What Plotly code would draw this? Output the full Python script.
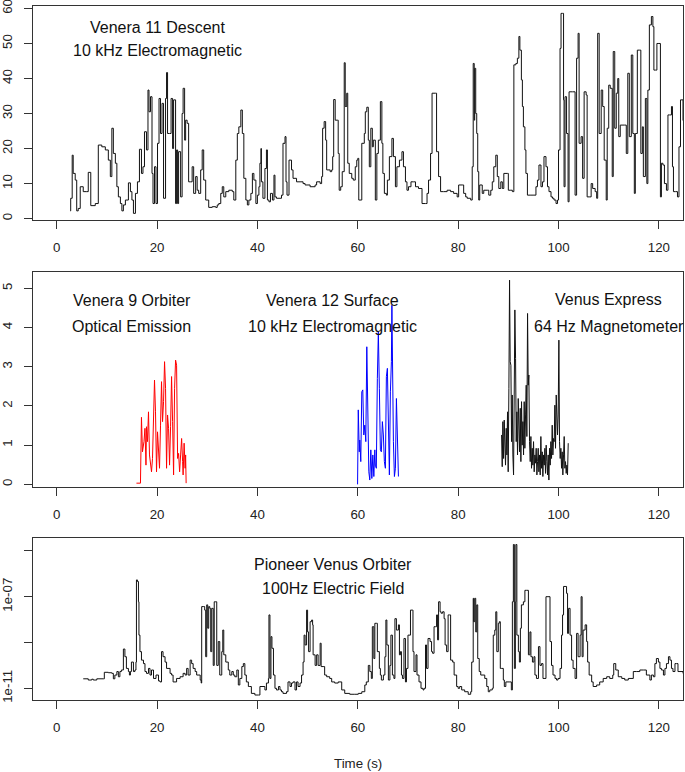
import plotly.graph_objects as go

# ---------------- data ----------------
# Venera 11 Descent, 10 kHz electromagnetic
v11_t = [2.7, 2.8, 3.1, 3.3, 3.7, 4.0, 4.3, 4.7, 5.3, 6.0, 6.3, 6.8, 7.7, 8.3, 9.0, 9.7, 10.3, 10.7, 11.0, 11.3,
         11.7, 12.0, 12.3, 12.7, 13.0, 13.3, 13.7, 14.3, 14.7, 15.0, 15.3, 15.7, 16.1, 16.5, 16.9, 17.2, 17.5, 17.9, 18.2, 18.4,
         18.7, 19.0, 19.2, 19.5, 19.8, 20.1, 20.4, 20.7, 21.0, 21.3, 21.7, 21.9, 22.1, 22.5, 22.8, 23.1, 23.3, 23.7, 23.9, 24.1,
         24.3, 24.7, 25.0, 25.2, 25.5, 25.7, 26.0, 26.3, 26.7, 27.0, 27.3, 27.7, 28.0, 28.3, 28.7, 29.0, 29.3, 29.7, 30.3, 31.0,
         31.7, 32.0, 32.3, 32.7, 33.0, 33.3, 33.7, 34.3, 35.0, 35.3, 35.7, 36.0, 36.3, 36.7, 37.0, 37.3, 37.7, 38.0, 38.3, 38.7,
         39.0, 39.3, 39.7, 40.0, 40.3,
         40.5, 40.7, 40.8, 41.1, 41.5, 41.8, 42.0, 42.3, 42.6, 43.0, 43.3, 43.5, 43.8, 44.5, 44.8, 45.1, 45.5, 45.7, 45.9, 46.3,
         46.8, 47.1, 47.8, 48.5, 49.1, 49.5, 50.5, 51.5, 51.8, 52.5, 52.8, 53.0, 53.3, 53.6, 53.8, 54.5, 54.8, 55.0, 55.2, 55.5,
         56.0, 56.1, 56.3, 56.6, 56.9, 57.3, 57.5, 57.8, 58.0, 58.3, 58.8, 59.1, 59.5, 59.8, 60.0, 60.2, 60.7, 60.8, 61.3, 61.5,
         61.8, 62.1, 62.3, 62.6, 62.9, 63.1, 63.5, 63.8, 64.1, 64.5, 64.8, 65.0, 65.3, 65.7, 65.9, 66.3, 66.8, 67.1, 67.5, 67.8,
         68.3, 68.8, 69.1, 69.5, 69.8, 70.1, 70.6, 71.1, 71.5, 72.1, 72.8, 73.5, 73.8, 74.1, 74.5, 74.8, 75.5, 75.7, 76.1, 76.5,
         77.1, 77.8, 78.5, 79.1, 79.8, 80.1, 80.8, 81.1, 81.5, 81.8, 82.5,
         82.8, 83.0, 83.2, 83.3, 83.5, 83.7, 83.9, 84.1, 84.3, 84.8, 85.1, 85.8, 86.1, 86.5, 86.8, 87.1, 87.5, 87.8, 88.1, 88.5,
         88.8, 89.1, 89.8, 90.0, 90.5, 90.8, 91.1, 91.5, 91.8, 92.1, 92.3, 92.6, 92.8, 93.0, 93.3, 93.5, 93.8, 94.5, 95.1, 95.5,
         95.8, 96.1, 96.5, 96.8, 97.1, 97.5, 97.8, 98.1, 98.5, 98.8, 99.1, 99.5, 99.8, 100.0, 100.3, 100.5, 100.8, 101.0, 101.1, 101.3,
         101.6, 101.9, 102.1, 102.8, 103.3, 103.6, 103.9, 104.1, 104.5, 104.8, 105.1, 105.5, 105.7, 106.1, 106.5, 106.8, 107.3, 107.6, 107.8, 108.1,
         108.5, 108.8, 109.1, 109.5, 109.7, 110.0, 110.3, 110.7, 110.9, 111.2, 111.5, 111.8, 112.0, 112.3, 113.1, 113.5, 113.8, 114.1, 114.5, 114.8,
         115.1, 115.3, 115.7, 116.1, 116.4, 116.7, 116.9, 117.3, 117.6, 117.8, 118.1, 118.5, 118.8, 119.0, 119.3, 119.6, 120.0, 120.3, 120.5, 120.8,
         121.1, 121.5, 121.8, 122.1, 122.5, 122.7, 122.9, 123.3, 123.7, 124.0, 124.3, 124.6, 124.8]
v11_y = [2.2, 5.8, 18.1, 12.9, 11.0, 2.2, 2.9, 9.1, 7.7, 7.7, 13.2, 3.7, 4.3, 21.0, 20.5, 19.6, 16.7, 12.0, 25.8, 18.6,
         15.8, 9.1, 6.2, 4.3, 2.2, 3.9, 5.3, 10.2, 7.7, 5.3, 1.5, 7.2, 10.5, 19.8, 12.9, 14.8, 24.8, 19.6, 36.7, 30.5,
         34.8, 12.9, 4.3, 14.8, 4.3, 21.5, 34.3, 24.3, 32.9, 5.8, 34.3, 41.7, 24.3, 24.3, 34.3, 20.0, 33.9, 4.3, 19.6, 4.3,
         19.1, 6.2, 30.0, 37.2, 22.4, 28.1, 27.2, 10.5, 10.5, 14.8, 7.2, 12.0, 8.1, 7.2, 13.9, 19.6, 11.0, 5.3, 3.2, 3.4,
         3.2, 3.9, 4.3, 7.2, 9.1, 6.2, 7.7, 8.1, 7.7, 5.3, 16.7, 24.3, 26.2, 31.0, 24.3, 11.5, 5.3, 3.9, 5.3, 7.2,
         12.9, 11.0, 4.3, 6.7, 9.1,
         15.8, 20.0, 10.5, 5.8, 14.3, 19.6, 5.3, 4.8, 7.2, 5.3, 12.4, 6.2, 5.8, 5.8, 6.7, 21.5, 23.4, 10.5, 6.7, 16.7,
         13.9, 11.5, 10.5, 10.5, 10.0, 9.6, 9.1, 9.6, 10.5, 10.0, 12.0, 25.8, 27.7, 22.4, 13.9, 13.4, 13.9, 17.7, 34.0, 28.1,
         28.1, 18.6, 8.1, 9.1, 13.4, 44.5, 32.0, 35.8, 15.8, 12.9, 11.5, 11.0, 14.8, 16.7, 17.2, 5.3, 5.3, 21.5, 24.3, 30.5,
         31.8, 22.4, 14.8, 25.8, 20.5, 22.4, 5.3, 18.6, 22.4, 33.4, 21.5, 12.9, 7.2, 6.7, 11.0, 17.7, 22.9, 17.7, 9.1, 14.8,
         16.7, 19.1, 14.8, 10.5, 8.1, 9.1, 10.5, 10.5, 9.1, 8.6, 4.3, 4.3, 7.2, 11.0, 18.6, 35.8, 35.8, 19.1, 12.0, 7.7,
         7.7, 8.1, 7.7, 7.2, 6.2, 9.6, 9.6, 7.2, 6.2, 5.8, 5.3,
         14.8, 44.3, 28.1, 42.9, 30.0, 24.3, 13.4, 5.3, 9.6, 7.2, 8.1, 8.1, 6.7, 8.1, 10.5, 14.8, 18.1, 12.0, 8.6, 10.5,
         8.6, 12.9, 12.9, 8.1, 8.1, 7.7, 43.9, 44.3, 45.8, 52.0, 48.1, 39.6, 32.0, 26.2, 19.6, 12.9, 6.7, 6.7, 6.7, 9.1,
         11.0, 15.3, 9.1, 10.5, 17.7, 14.8, 9.1, 7.7, 6.2, 5.8, 5.3, 4.3, 5.3, 19.6, 48.6, 58.6, 58.6, 33.9, 9.1, 34.8,
         24.3, 4.8, 36.2, 36.2, 6.7, 45.8, 52.9, 21.5, 23.4, 11.5, 36.2, 35.3, 6.2, 6.2, 10.0, 8.6, 7.7, 5.8, 52.9, 24.3,
         36.7, 32.0, 16.7, 5.3, 25.8, 38.1, 37.2, 12.0, 47.7, 25.8, 35.8, 40.0, 23.4, 26.7, 26.7, 18.6, 41.5, 23.4, 46.7, 24.3,
         7.2, 24.3, 48.1, 48.1, 18.6, 26.2, 12.0, 34.3, 10.0, 36.7, 55.3, 57.7, 54.8, 42.4, 42.4, 50.0, 50.0, 6.2, 15.8, 15.3,
         10.0, 8.1, 29.6, 29.6, 32.0, 14.8, 7.7, 7.7, 6.2, 20.5, 33.9, 33.9, 28.0]

# Venera 9 Orbiter, optical emission
v9_t = [15.9, 16.7, 16.9, 17.1, 17.4, 17.6, 17.8, 17.9, 18.1, 18.3, 18.5, 18.7, 18.9, 19.1, 19.3, 19.5, 19.7, 19.9, 20.1, 20.3,
        20.5, 20.7, 20.9, 21.1, 21.3, 21.5, 21.7, 21.9, 22.1, 22.3, 22.5, 22.7, 22.9, 23.1, 23.3, 23.5, 23.7, 23.9, 24.1, 24.3,
        24.5, 24.7, 24.9, 25.1, 25.2, 25.4, 25.6, 25.7, 25.8]
v9_y = [0.03, 0.03, 1.71, 0.83, 1.09, 1.43, 0.49, 1.47, 1.09, 1.85, 0.75, 0.41, 0.32, 0.66, 1.51, 2.66, 1.85, 0.32, 1.34, 0.71,
        0.41, 1.51, 2.62, 1.60, 2.11, 3.13, 2.45, 0.41, 1.77, 1.43, 0.49, 1.47, 2.75, 1.60, 0.24, 2.45, 3.17, 3.04, 0.66, 0.79,
        0.32, 0.75, 1.17, 0.58, 0.24, 1.05, 0.41, 0.75, 0.03]

# Venera 12 Surface, 10 kHz electromagnetic
v12_t = [59.96, 60.1, 60.3, 60.4, 60.6, 60.8, 61.0, 61.2, 61.4, 61.6, 61.8, 62.0, 62.2, 62.4, 62.6, 62.8, 63.0, 63.2, 63.4, 63.5,
         63.7, 63.9, 64.1, 64.3, 64.5, 64.7, 64.9, 65.1, 65.3, 65.5, 65.7, 65.9, 66.1, 66.3, 66.5, 66.7, 66.8, 66.9, 67.1, 67.3,
         67.5, 67.7, 67.9, 68.1]
v12_y = [0.0, 1.90, 0.83, 1.13, 0.58, 2.36, 2.41, 1.26, 1.51, 1.09, 3.51, 1.68, 0.32, 0.11, 0.88, 0.15, 0.75, 0.20, 0.88, 0.49,
         0.41, 2.70, 3.89, 2.45, 0.88, 0.83, 1.60, 1.26, 0.58, 0.41, 2.75, 2.96, 0.92, 0.24, 2.36, 3.13, 4.57, 2.62, 1.09, 0.20,
         0.41, 2.19, 0.75, 0.20]

# Venus Express, 64 Hz magnetometer
vex_t = [88.65, 88.78, 88.91, 89.05, 89.18, 89.31, 89.44, 89.58, 89.71, 89.84, 89.97, 90.11, 90.24, 90.37, 90.51, 90.64, 90.77, 90.90, 91.04, 91.17,
         91.30, 91.44, 91.57, 91.70, 91.83, 91.97, 92.10, 92.23, 92.37, 92.50, 92.63, 92.76, 92.90, 93.03, 93.16, 93.29, 93.43, 93.56, 93.69, 93.83,
         93.96, 94.09, 94.22, 94.36, 94.49, 94.62, 94.76, 94.89, 95.02, 95.15, 95.29, 95.42, 95.55, 95.69, 95.82, 95.95, 96.08, 96.22, 96.35, 96.48,
         96.61, 96.75, 96.88, 97.01, 97.15, 97.28, 97.41, 97.54, 97.68, 97.81, 97.94, 98.08, 98.21, 98.34, 98.47, 98.61, 98.74, 98.87, 99.00, 99.14,
         99.27, 99.40, 99.54, 99.67, 99.80, 99.93, 100.07, 100.20, 100.33, 100.47, 100.60, 100.73, 100.86, 101.00, 101.13, 101.26, 101.39, 101.53, 101.66, 101.79,
         101.93]
vex_y = [1.26, 0.45, 1.60, 0.66, 1.64, 1.09, 0.49, 1.43, 0.75, 1.85, 0.32, 2.45, 5.21, 3.13, 3.04, 1.09, 2.28, 0.75, 0.24, 2.28,
         4.45, 3.21, 1.09, 1.85, 0.75, 2.19, 1.43, 0.83, 1.94, 0.58, 2.11, 1.00, 1.60, 0.75, 2.11, 0.92, 1.77, 2.53, 1.22, 4.36,
         2.53, 2.79, 1.09, 0.58, 1.22, 0.41, 0.92, 0.49, 1.09, 0.32, 0.75, 0.54, 0.92, 0.24, 0.58, 0.92, 0.32, 0.75, 0.24, 1.22,
         0.41, 0.83, 0.20, 0.75, 0.49, 0.92, 0.28, 1.00, 0.58, 0.24, 0.75, 0.11, 0.92, 0.49, 1.09, 0.66, 1.51, 0.75, 1.17, 1.09,
         2.02, 0.92, 2.28, 1.60, 1.26, 1.77, 3.68, 1.09, 0.66, 0.92, 0.41, 0.83, 0.24, 0.75, 1.22, 0.41, 0.58, 0.28, 0.49, 0.24,
         1.05]

# Pioneer Venus Orbiter, 100 Hz electric field
pvo_t = [5.3, 6.3, 7.0, 7.3, 8.0, 9.3, 9.5, 10.3, 11.0, 11.3, 11.6, 12.0, 12.3, 12.6, 12.9, 13.3, 13.6, 13.9, 14.3, 14.5,
         14.7, 14.9, 15.3, 15.6, 15.8, 15.9, 16.1, 16.3, 16.4, 16.6, 16.9, 17.3, 17.6, 17.9, 18.3, 18.6, 18.9, 19.3, 19.8, 20.3,
         20.6, 20.9, 21.2, 21.6, 21.9, 22.6, 22.9, 23.2, 23.9, 24.6, 25.2, 25.6, 25.9, 26.2, 26.6, 26.9, 27.2, 27.6, 27.9, 28.6,
         28.8, 28.9, 29.2, 29.5, 29.7, 29.9, 30.1, 30.3, 30.5, 30.7, 30.9, 31.2, 31.4, 31.7, 31.9, 32.2, 32.5, 32.9, 33.1, 33.3,
         33.7, 34.2, 34.5, 34.9, 35.2, 35.5, 35.9, 36.2, 36.5, 36.9, 37.2, 37.5, 37.8, 38.2, 38.5, 38.8, 39.5, 40.2,
         40.5, 41.5, 41.8, 42.2, 42.3, 42.5, 42.7, 42.9, 43.2, 43.5, 43.8, 44.2, 44.5, 44.8, 45.1, 45.8, 46.1, 46.5, 46.8, 47.1,
         47.5, 47.8, 48.1, 48.5, 48.8, 49.1, 49.3, 49.5, 49.8, 50.0, 50.2, 50.5, 50.8, 51.0, 51.1, 51.5, 51.8, 52.1, 52.5, 52.7,
         53.1, 53.4, 53.8, 54.4, 54.8, 55.4, 56.1, 56.8, 57.4, 58.4, 59.4, 60.1, 60.8, 61.4, 61.7, 62.1, 62.4, 62.7, 62.9, 63.2,
         63.4, 63.7, 63.9, 64.3, 64.5, 64.7, 65.1, 65.4, 65.6, 65.8, 66.1, 66.4, 66.6, 66.9, 67.2, 67.4, 67.7, 68.1, 68.3, 68.5,
         68.7, 68.9, 69.2, 69.5, 69.7, 70.0, 70.5, 70.9, 71.0, 71.2, 71.6, 71.8, 72.2, 72.6, 73.0, 73.2, 73.5, 73.7, 74.0, 74.4,
         74.7, 74.9, 75.2, 75.5, 75.7, 75.9, 76.1, 76.4, 76.6, 76.9, 77.2, 77.4, 77.7, 78.0, 78.3, 78.5, 78.9, 79.2, 79.7, 80.0,
         80.3, 80.7, 81.3, 82.0, 82.5, 82.7, 83.0,
         83.1, 83.3, 83.5, 83.7, 83.9, 84.2, 84.5, 85.3, 85.7, 86.0, 86.3, 86.8, 87.0, 87.3, 87.5, 87.7, 88.0, 88.2, 88.4, 88.6,
         89.0, 89.2, 89.5, 90.3, 90.6, 90.8, 91.0, 91.2, 91.4, 91.5, 91.7, 92.0, 92.2, 92.4, 92.6, 93.0, 93.3, 93.6, 94.0, 94.3,
         94.5, 94.8, 95.1, 95.3, 95.6, 96.0, 96.3, 96.6, 96.9, 97.3, 97.5, 97.9, 98.3, 98.6, 98.9, 99.3, 99.6, 99.9, 100.3, 100.6,
         100.8, 101.0, 101.3, 101.6, 101.8, 102.0, 102.3, 102.6, 102.9, 103.3, 103.6, 103.9, 104.3, 104.5, 104.7, 104.9, 105.3, 105.6, 105.8, 106.1,
         106.6, 106.9, 107.6, 108.2, 108.9, 109.6, 110.2, 110.8, 111.0, 111.4, 111.9, 112.6, 113.2, 113.9, 114.9, 115.5, 116.2, 116.9, 117.5, 118.2,
         118.5, 118.9, 119.2, 119.5, 119.9, 120.2, 120.5, 120.9, 121.2, 121.5, 121.9, 122.2, 122.5, 122.8, 123.2, 123.5, 123.8, 124.2, 124.8]
pvo_y = [2.6e-11, 2.3e-11, 2.5e-11, 2.3e-11, 2.6e-11, 2.6e-11, 5.0e-11, 4.8e-11, 4.5e-11, 2.6e-11, 3.8e-11, 5.4e-11, 3.2e-11, 5.4e-11, 6.3e-11, 5.2e-10, 2.4e-10, 7.4e-11, 5.4e-11, 3.8e-11,
         5.4e-11, 1.4e-10, 5.4e-11, 6.3e-11, 1.4e-10, 5.4e-07, 4.6e-07, 6.0e-08, 2.1e-09, 4.0e-10, 1.7e-10, 1.2e-10, 5.4e-11, 4.5e-11, 7.4e-11, 3.8e-11, 6.3e-11, 2.7e-11, 3.8e-11, 2.1e-11,
         1.9e-11, 4.0e-10, 2.4e-10, 1.4e-10, 7.4e-11, 4.5e-11, 3.8e-11, 1.9e-11, 2.7e-11, 3.2e-11, 4.5e-11, 3.8e-11, 7.4e-11, 3.8e-11, 1.7e-10, 1.2e-10, 7.4e-11, 5.4e-11, 3.8e-11, 2.3e-11,
         1.7e-11, 3.7e-08, 3.7e-08, 2.6e-08, 2.4e-10, 4.4e-08, 4.2e-09, 3.7e-08, 3.1e-08, 4.0e-10, 3.1e-08, 1.0e-10, 6.0e-08, 6.0e-08, 1.0e-10, 1.1e-09, 3.8e-11, 4.0e-10, 3.5e-09, 2.9e-10,
         1.4e-10, 6.3e-11, 3.8e-11, 5.4e-11, 3.8e-11, 3.2e-11, 6.3e-11, 1.4e-11, 2.7e-11, 8.9e-11, 1.2e-10, 3.8e-11, 1.9e-11, 1.2e-11, 1.2e-11, 6.0e-12, 5.1e-12, 5.1e-12,
         1.2e-11, 8.5e-12, 1.7e-11, 2.7e-11, 1.6e-08, 2.7e-11, 1.8e-09, 5.6e-10, 3.8e-11, 1.0e-11, 8.5e-12, 1.2e-11, 8.5e-12, 7.1e-12, 6.0e-12, 7.1e-12, 1.9e-11, 1.2e-11, 1.7e-11, 1.9e-11,
         8.5e-12, 1.9e-11, 1.2e-11, 1.7e-11, 3.8e-11, 1.4e-10, 2.1e-09, 7.8e-10, 2.6e-08, 2.9e-09, 4.0e-10, 8.1e-09, 9.6e-09, 5.9e-09, 2.9e-10, 1.0e-10, 2.9e-10, 1.0e-10, 9.3e-10, 8.9e-11,
         8.9e-11, 3.8e-11, 3.2e-11, 2.7e-11, 1.9e-11, 1.7e-11, 1.9e-11, 8.5e-12, 6.0e-12, 5.5e-12, 5.5e-12, 6.0e-12, 7.1e-12, 1.4e-11, 1.9e-11, 1.0e-10, 5.4e-11, 2.7e-11, 4.9e-09, 2.0e-10,
         6.9e-09, 6.9e-09, 4.0e-10, 7.4e-11, 3.8e-11, 2.3e-11, 3.8e-11, 2.4e-10, 9.6e-09, 7.8e-10, 2.3e-11, 1.0e-10, 2.1e-09, 3.8e-11, 2.7e-11, 1.1e-08, 3.5e-09, 5.9e-09, 2.9e-10, 4.0e-10,
         3.8e-11, 2.7e-11, 1.5e-09, 1.9e-11, 7.4e-11, 2.1e-09, 2.6e-08, 2.6e-08, 4.0e-10, 5.4e-11, 2.9e-10, 3.8e-11, 1.9e-11, 1.0e-11, 8.5e-12, 1.0e-11, 7.8e-10, 7.4e-11, 1.5e-09, 1.1e-09,
         4.0e-10, 3.4e-10, 4.9e-09, 4.9e-09, 1.6e-08, 1.3e-09, 6.0e-08, 2.2e-08, 1.9e-08, 2.2e-08, 1.1e-08, 7.8e-10, 4.0e-10, 1.6e-08, 1.6e-08, 1.7e-10, 1.4e-10, 3.8e-11, 1.2e-11, 1.0e-11,
         1.2e-11, 8.5e-12, 7.1e-12, 5.5e-12, 7.1e-12, 1.4e-10, 8.5e-08,
         8.1e-09, 8.5e-08, 2.9e-09, 4.4e-08, 2.0e-10, 5.4e-11, 3.8e-11, 2.7e-11, 1.2e-11, 7.1e-12, 8.5e-12, 1.0e-11, 2.1e-09, 3.5e-09, 2.2e-08, 4.0e-10, 6.9e-09, 8.1e-09, 7.4e-11, 7.4e-11,
         2.3e-11, 1.2e-11, 1.9e-11, 1.9e-11, 8.5e-12, 6.0e-08, 1.9e-05, 7.4e-11, 6.0e-08, 1.9e-05, 2.1e-09, 4.0e-10, 1.4e-10, 4.2e-09, 4.4e-08, 6.0e-08, 1.9e-07, 1.9e-07, 2.9e-10, 2.9e-09,
         2.4e-10, 1.4e-10, 2.4e-10, 3.8e-11, 2.7e-11, 6.6e-10, 1.0e-10, 1.2e-10, 2.7e-11, 2.7e-11, 1.0e-07, 1.0e-07, 1.1e-09, 1.0e-10, 3.8e-11, 2.7e-11, 2.3e-11, 2.7e-11, 7.4e-11, 2.1e-09,
         1.6e-08, 2.8e-07, 2.8e-07, 1.4e-07, 2.5e-09, 3.1e-08, 2.1e-09, 1.7e-10, 7.4e-11, 2.7e-11, 2.5e-09, 2.4e-10, 2.1e-09, 1.0e-07, 2.4e-10, 3.5e-09, 5.9e-09, 1.1e-09, 1.4e-10, 3.8e-11,
         1.9e-11, 1.2e-11, 1.4e-11, 1.9e-11, 2.7e-11, 3.2e-11, 2.7e-11, 3.8e-11, 1.2e-10, 6.3e-11, 3.2e-11, 2.7e-11, 2.3e-11, 2.7e-11, 5.4e-11, 5.4e-11, 6.3e-11, 6.3e-11, 3.8e-11, 2.3e-11,
         3.8e-11, 3.2e-11, 1.2e-10, 2.0e-10, 1.4e-10, 7.4e-11, 6.3e-11, 3.8e-11, 7.4e-11, 1.2e-10, 2.4e-10, 1.7e-10, 7.4e-11, 5.4e-11, 1.2e-10, 1.2e-10, 5.4e-11, 5.4e-11, 4.5e-11]

x_ticks = [0, 20, 40, 60, 80, 100, 120]
y1_ticks = [0, 10, 20, 30, 40, 50, 60]
y2_ticks = [0, 1, 2, 3, 4, 5]
y3_ticks = [1e-11, 1e-9, 1e-7, 1e-5]
y3_labels = ["1e-11", "", "1e-07", ""]

# ---------------- figure ----------------
FONT = "Liberation Sans, Arial, sans-serif"
fig = go.Figure()
fig.add_trace(go.Scatter(x=v11_t, y=v11_y, mode="lines", line=dict(color="#111", width=1, shape="hv"),
                         xaxis="x", yaxis="y"))
fig.add_trace(go.Scatter(x=v9_t, y=v9_y, mode="lines", line=dict(color="#ff0000", width=1),
                         xaxis="x2", yaxis="y2"))
fig.add_trace(go.Scatter(x=v12_t, y=v12_y, mode="lines", line=dict(color="#0000ff", width=1),
                         xaxis="x2", yaxis="y2"))
fig.add_trace(go.Scatter(x=vex_t, y=vex_y, mode="lines", line=dict(color="#111", width=1),
                         xaxis="x2", yaxis="y2"))
fig.add_trace(go.Scatter(x=pvo_t, y=pvo_y, mode="lines", line=dict(color="#111", width=1, shape="hv"),
                         xaxis="x3", yaxis="y3"))

H = 694.0
def dom(top_px, bot_px):
    return [(700 - bot_px) / H, (700 - top_px) / H]

xcommon = dict(range=[-4.71, 124.8], tickmode="array", tickvals=x_ticks, ticks="outside", ticklen=8,
               tickcolor="#333", showline=True, linecolor="#333", linewidth=1, mirror=True,
               showgrid=False, zeroline=False, tickfont=dict(family=FONT, size=13.3, color="#222"),
               ticklabelstandoff=7, automargin=False, ticklabeloverflow="allow")
ycommon = dict(ticks="outside", ticklen=8, tickcolor="#333", showline=True, linecolor="#333", linewidth=1,
               mirror=True, showgrid=False, zeroline=False, tickangle=-90, automargin=False,
               tickfont=dict(family=FONT, size=13.3, color="#222"), ticklabelstandoff=7,
               ticklabeloverflow="allow")

fig.update_layout(
    width=685, height=772, margin=dict(l=33, r=2, t=6, b=72, autoexpand=False),
    paper_bgcolor="white", plot_bgcolor="white", showlegend=False,
    xaxis=dict(anchor="y", **xcommon),
    xaxis2=dict(anchor="y2", **xcommon),
    xaxis3=dict(anchor="y3", **xcommon),
    yaxis=dict(anchor="x", domain=dom(6, 220), range=[-0.4, 60.7], tickvals=y1_ticks, **ycommon),
    yaxis2=dict(anchor="x2", domain=dom(272.3, 486.7), range=[-0.06, 5.41], tickvals=y2_ticks, **ycommon),
    yaxis3=dict(anchor="x3", domain=dom(538.3, 700), type="log", range=[-11.51, -4.45],
                tickvals=y3_ticks, ticktext=y3_labels, **ycommon),
)

ann = dict(showarrow=False, font=dict(family=FONT, size=16, color="#111"), xanchor="center", yanchor="middle")
fig.add_annotation(x=20, y=54.6, xref="x", yref="y", text="Venera 11 Descent", **ann)
fig.add_annotation(x=20, y=48.0, xref="x", yref="y", text="10 kHz Electromagnetic", **ann)
fig.add_annotation(x=15, y=4.68, xref="x2", yref="y2", text="Venera 9 Orbiter", **ann)
fig.add_annotation(x=15, y=4.03, xref="x2", yref="y2", text="Optical Emission", **ann)
fig.add_annotation(x=55, y=4.68, xref="x2", yref="y2", text="Venera 12 Surface", **ann)
fig.add_annotation(x=55, y=4.03, xref="x2", yref="y2", text="10 kHz Electromagnetic", **ann)
fig.add_annotation(x=110, y=4.72, xref="x2", yref="y2", text="Venus Express", **ann)
fig.add_annotation(x=110, y=4.03, xref="x2", yref="y2", text="64 Hz Magnetometer", **ann)
fig.add_annotation(x=55, y=-5.60, xref="x3", yref="y3", text="Pioneer Venus Orbiter", **ann)
fig.add_annotation(x=55, y=-6.62, xref="x3", yref="y3", text="100Hz Electric Field", **ann)
# x-axis title of the bottom panel
fig.add_annotation(x=0.5, y=(700 - 763) / H, xref="paper", yref="paper", text="Time (s)", showarrow=False,
                   font=dict(family=FONT, size=13.3, color="#222"), xanchor="center", yanchor="middle")

# remove the default 8px page margin so the figure sits at the window's top-left corner
fig.write_html("out.html", config={"displayModeBar": False},
               post_script="document.body.style.margin='0';document.body.style.padding='0';")
